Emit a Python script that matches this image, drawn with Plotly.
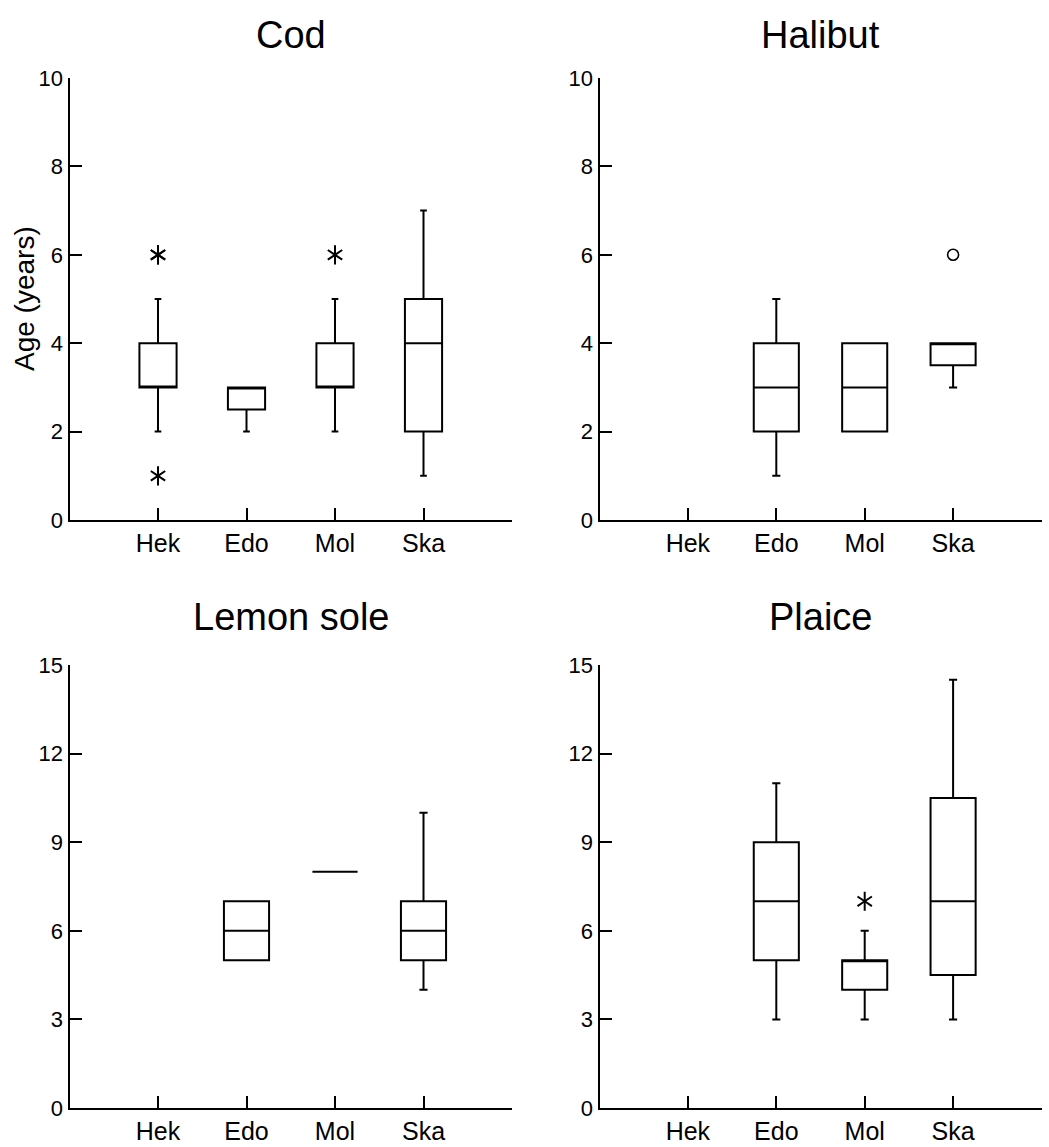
import plotly.graph_objects as go

# ---------------- data ----------------
categories = ["Hek", "Edo", "Mol", "Ska"]

cod_groups = ["Hek", "Edo", "Mol", "Ska"]
cod_q1 = [3, 2.5, 3, 2]
cod_median = [3, 3, 3, 4]
cod_q3 = [4, 3, 4, 5]
cod_low = [2, 2, 2, 1]
cod_high = [5, 3, 5, 7]
cod_star_groups = ["Hek", "Hek", "Hek", "Mol"]
cod_star_values = [6, 6, 1, 6]

hal_groups = ["Edo", "Mol", "Ska"]
hal_q1 = [2, 2, 3.5]
hal_median = [3, 3, 4]
hal_q3 = [4, 4, 4]
hal_low = [1, 2, 3]
hal_high = [5, 4, 4]
hal_circle_groups = ["Ska"]
hal_circle_values = [6]

lem_groups = ["Edo", "Mol", "Ska"]
lem_q1 = [5, 8, 5]
lem_median = [6, 8, 6]
lem_q3 = [7, 8, 7]
lem_low = [5, 8, 4]
lem_high = [7, 8, 10]

pla_groups = ["Edo", "Mol", "Ska"]
pla_q1 = [5, 4, 4.5]
pla_median = [7, 5, 7]
pla_q3 = [9, 5, 10.5]
pla_low = [3, 3, 3]
pla_high = [11, 6, 14.5]
pla_star_groups = ["Mol"]
pla_star_values = [7]

titles = ["Cod", "Halibut", "Lemon sole", "Plaice"]
top_ticks = [0, 2, 4, 6, 8, 10]
bottom_ticks = [0, 3, 6, 9, 12, 15]
y_title = "Age (years)"

# ---------------- figure ----------------
W, H = 1049, 1147
FONT = "Liberation Sans, Arial, sans-serif"


def pos(groups):
    return [categories.index(g) + 1 for g in groups]


fig = go.Figure()

panels = [
    (cod_groups, cod_q1, cod_median, cod_q3, cod_low, cod_high, 0.42),
    (hal_groups, hal_q1, hal_median, hal_q3, hal_low, hal_high, 0.51),
    (lem_groups, lem_q1, lem_median, lem_q3, lem_low, lem_high, 0.51),
    (pla_groups, pla_q1, pla_median, pla_q3, pla_low, pla_high, 0.51),
]

for i, (g, q1, md, q3, lo, hi, bw) in enumerate(panels):
    ax = "" if i == 0 else str(i + 1)
    fig.add_trace(go.Box(
        x=pos(g), q1=q1, median=md, q3=q3, lowerfence=lo, upperfence=hi,
        width=bw, whiskerwidth=0.18, boxpoints=False,
        line=dict(color="black", width=2), fillcolor="white",
        xaxis="x" + ax, yaxis="y" + ax, showlegend=False,
    ))


def add_star(groups, values, ax):
    for sym in ("y-up-open", "y-down-open"):
        fig.add_trace(go.Scatter(
            x=pos(groups), y=values, mode="markers",
            marker=dict(symbol=sym, size=12, color="black",
                        line=dict(color="black", width=2)),
            xaxis="x" + ax, yaxis="y" + ax, showlegend=False,
        ))


add_star(cod_star_groups, cod_star_values, "")
add_star(pla_star_groups, pla_star_values, "4")
fig.add_trace(go.Scatter(
    x=pos(hal_circle_groups), y=hal_circle_values, mode="markers",
    marker=dict(symbol="circle-open", size=11, color="black",
                line=dict(color="black", width=1.6)),
    xaxis="x2", yaxis="y2", showlegend=False,
))

# pixel geometry
left_x = (69.5, 512.0)
right_x = (599.5, 1041.5)
top_y = (78.0, 520.0)
bot_y = (665.0, 1108.0)


def xd(p):
    return [p[0] / W, p[1] / W]


def yd(p):
    return [(H - p[1]) / H, (H - p[0]) / H]


xcommon = dict(
    range=[0, 5], tickmode="array", tickvals=[0, 1, 2, 3, 4, 5],
    ticktext=[""] + categories + [""], ticks="inside", ticklen=12,
    tickwidth=1.6, tickcolor="black", showline=True, linecolor="black",
    linewidth=2, showgrid=False, zeroline=False, automargin=False,
    tickfont=dict(family=FONT, size=25, color="black"), fixedrange=True,
)
ycommon = dict(
    ticks="inside", ticklen=12, tickwidth=1.6, tickcolor="black",
    showline=True, linecolor="black", linewidth=2, showgrid=False,
    zeroline=False, automargin=False,
    tickfont=dict(family=FONT, size=22, color="black"),
    fixedrange=True,
)

layout = dict(
    width=W, height=H, autosize=False,
    margin=dict(l=0, r=0, t=0, b=0, pad=0, autoexpand=False),
    paper_bgcolor="white", plot_bgcolor="white",
    font=dict(family=FONT, color="black"),
)
specs = [(left_x, top_y, top_ticks, 43), (right_x, top_y, top_ticks, 43),
         (left_x, bot_y, bottom_ticks, 48), (right_x, bot_y, bottom_ticks, 48)]
for i, (px, py, tv, _) in enumerate(specs):
    n = "" if i == 0 else str(i + 1)
    layout["xaxis" + n] = dict(xcommon, domain=xd(px), anchor="y" + n)
    layout["yaxis" + n] = dict(ycommon, domain=yd(py), anchor="x" + n,
                               range=[tv[0], tv[-1]], tickmode="array",
                               tickvals=tv)

annotations = []
for (px, py, _, off), t in zip(specs, titles):
    annotations.append(dict(
        text=t, xref="paper", yref="paper",
        x=(px[0] + px[1]) / 2 / W, y=(H - (py[0] - off)) / H,
        xanchor="center", yanchor="middle", showarrow=False,
        font=dict(family=FONT, size=38, color="black"),
    ))
# y-axis title of the Cod panel
annotations.append(dict(
    text=y_title, xref="paper", yref="paper", textangle=-90,
    x=24 / W, y=(H - (top_y[0] + top_y[1]) / 2) / H,
    xanchor="center", yanchor="middle", showarrow=False,
    font=dict(family=FONT, size=28, color="black"),
))
layout["annotations"] = annotations

fig.update_layout(**layout)
fig.write_html("out.html")
